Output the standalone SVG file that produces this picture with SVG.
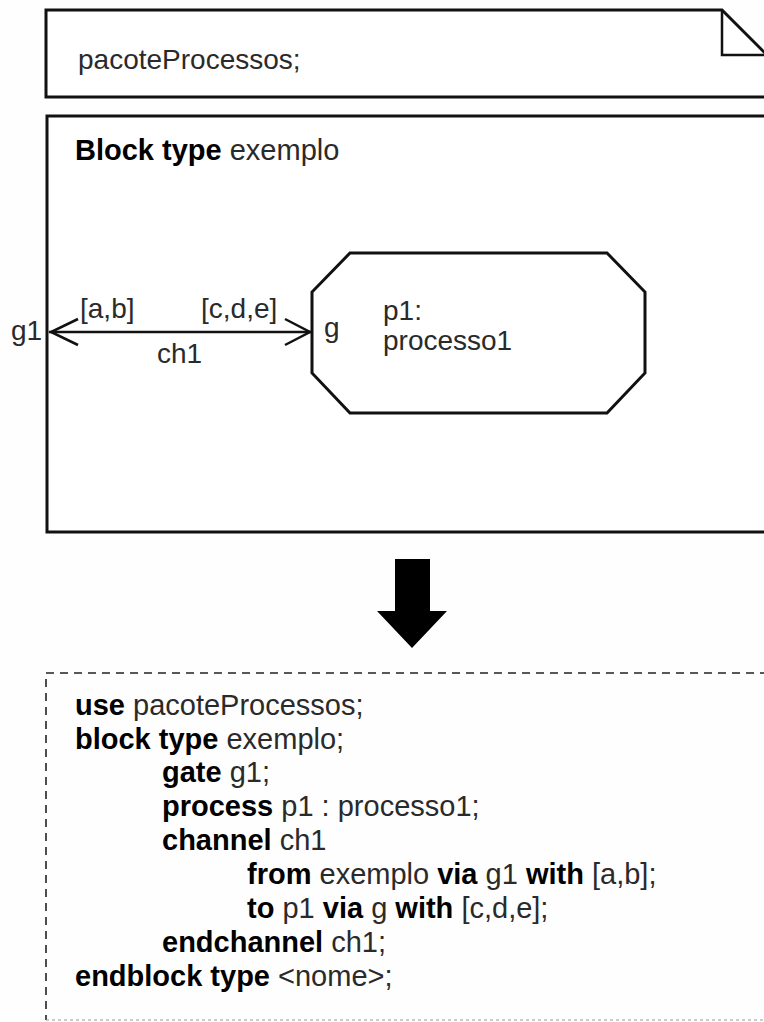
<svg xmlns="http://www.w3.org/2000/svg" width="764" height="1022" viewBox="0 0 764 1022">
  <style>
    .frame { fill: #ffffff; stroke: #111111; stroke-width: 3; }
    .proc { fill: #ffffff; stroke: #111111; stroke-width: 3; stroke-linejoin: miter; }
    .line { fill: none; stroke: #111111; stroke-width: 2.5; }
    .dash { fill: none; stroke: #222222; stroke-width: 1.6; stroke-dasharray: 8 6; }
    .dash-faint { fill: none; stroke: #9a9a9a; stroke-width: 1.2; stroke-dasharray: 3 3; }
    text { font-family: "Liberation Sans", Arial, sans-serif; font-size: 28px; fill: #2a2a2a; }
    .code { font-size: 29px; }
    .b { font-weight: bold; fill: #000000; }
  </style>

  <rect width="764" height="1022" fill="#fefefe"/>

  <!-- package reference (note shape with folded corner) -->
  <g id="package">
    <path class="frame" d="M 46 10 H 722 L 768 56 V 97 H 46 Z"/>
    <path class="line" d="M 722 10 V 55 H 768"/>
    <text x="78" y="69">pacoteProcessos;</text>
  </g>

  <!-- block type frame -->
  <g id="block">
    <path class="frame" d="M 768 116 H 47 V 532 H 768"/>
    <text class="code" x="75" y="160"><tspan class="b">Block type</tspan> exemplo</text>
    <text x="11" y="340">g1</text>
  </g>

  <!-- process instance p1 -->
  <g id="p1">
    <polygon class="proc" points="350,253 607,253 645,292 645,373 607,413 350,413 312,373 312,292"/>
    <text x="324" y="337">g</text>
    <text x="383" y="320">p1:</text>
    <text x="383" y="350">processo1</text>
  </g>

  <!-- channel ch1 between gate g1 and gate g -->
  <g id="connectors">
    <line class="line" x1="49" y1="332" x2="311" y2="332"/>
    <polyline class="line" points="78,319 51,332 78,345"/>
    <polyline class="line" points="285,319 310,332 285,345"/>
    <text x="80" y="318">[a,b]</text>
    <text x="201" y="318">[c,d,e]</text>
    <text x="157" y="363">ch1</text>
  </g>

  <!-- transformation arrow -->
  <g id="arrow">
    <polygon fill="#000000" points="395,559 430,559 430,611 447,611 412,648 377,611 395,611"/>
  </g>

  <!-- generated textual SDL -->
  <g id="code">
    <path class="dash" d="M 768 673 H 46 V 1020"/>
    <path class="dash-faint" d="M 46 1020 H 768"/>
    <text class="code" x="75" y="715"><tspan class="b">use</tspan> pacoteProcessos;</text>
    <text class="code" x="75" y="749"><tspan class="b">block type</tspan> exemplo;</text>
    <text class="code" x="162" y="782"><tspan class="b">gate</tspan> g1;</text>
    <text class="code" x="162" y="816"><tspan class="b">process</tspan> p1 : processo1;</text>
    <text class="code" x="162" y="850"><tspan class="b">channel</tspan> ch1</text>
    <text class="code" x="247" y="884"><tspan class="b">from</tspan> exemplo <tspan class="b">via</tspan> g1 <tspan class="b">with</tspan> [a,b];</text>
    <text class="code" x="247" y="918"><tspan class="b">to</tspan> p1 <tspan class="b">via</tspan> g <tspan class="b">with</tspan> [c,d,e];</text>
    <text class="code" x="162" y="952"><tspan class="b">endchannel</tspan> ch1;</text>
    <text class="code" x="75" y="986"><tspan class="b">endblock type</tspan> &lt;nome&gt;;</text>
  </g>
</svg>
